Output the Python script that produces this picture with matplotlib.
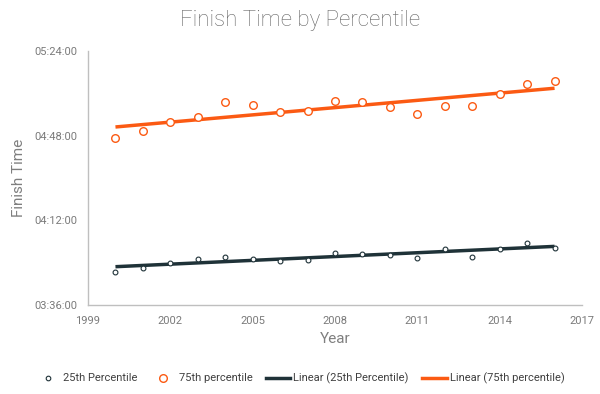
import numpy as np
import matplotlib
matplotlib.use("Agg")
import matplotlib.pyplot as plt
from matplotlib.ticker import FuncFormatter, MultipleLocator
from matplotlib.lines import Line2D

plt.rcParams['font.family'] = ['Roboto', 'DejaVu Sans']

years = [2000, 2001, 2002, 2003, 2004, 2005, 2006, 2007, 2008,
         2009, 2010, 2011, 2012, 2013, 2014, 2015, 2016]
# finish times in minutes
p25 = [230.2, 231.6, 234.0, 235.7, 236.5, 235.7, 234.7, 235.1, 238.2,
       237.8, 237.4, 236.1, 239.9, 236.5, 239.9, 242.5, 240.4]
p75 = [287.1, 290.1, 293.9, 295.8, 302.4, 301.2, 298.2, 298.6, 302.7,
       302.4, 300.3, 297.3, 300.7, 300.7, 305.8, 310.1, 311.4]
xticks = [1999, 2002, 2005, 2008, 2011, 2014, 2017]

dark = '#1f3238'
orange = '#fb5a13'
gray = '#7f7f7f'

fig = plt.figure(figsize=(6, 3.94), dpi=100)
ax = fig.add_axes([0.1467, 0.2259, 0.8233, 0.6447])

x = np.array(years, dtype=float)
c25 = np.polyfit(x, p25, 1)
c75 = np.polyfit(x, p75, 1)
xl = np.array([x.min(), x.max()])
ax.plot(xl, np.polyval(c25, xl), color=dark, lw=2.5, solid_capstyle='butt', zorder=2)
ax.plot(xl, np.polyval(c75, xl), color=orange, lw=2.5, solid_capstyle='butt', zorder=2)
ax.scatter(x, p25, s=12, facecolors='white', edgecolors=dark, linewidths=0.8, zorder=3)
ax.scatter(x, p75, s=30, facecolors='white', edgecolors=orange, linewidths=1.0, zorder=3)

ax.set_xlim(1999, 2017)
ax.set_ylim(216, 324)
ax.set_xticks(xticks)
ax.yaxis.set_major_locator(MultipleLocator(36))

def fmt(v, pos):
    m = int(round(v))
    return f"{m // 60:02d}:{m % 60:02d}:00"
ax.yaxis.set_major_formatter(FuncFormatter(fmt))
ax.xaxis.set_major_formatter(FuncFormatter(lambda v, p: f"{int(round(v))}"))

for s in ['top', 'right']:
    ax.spines[s].set_visible(False)
for s in ['left', 'bottom']:
    ax.spines[s].set_color('#bfbfbf')
    ax.spines[s].set_linewidth(1.0)
ax.tick_params(length=0, labelsize=8, labelcolor='#7a7a7a', pad=8)

ax.set_xlabel('Year', fontsize=11, color=gray, labelpad=4)
ax.set_ylabel('Finish Time', fontsize=11, color=gray, labelpad=6)
fig.suptitle('Finish Time by Percentile', fontsize=16, color='#666666', y=0.975, fontweight='light')

handles = [
    Line2D([], [], ls='none', marker='o', ms=3.3, mfc='white', mec=dark, mew=0.8),
    Line2D([], [], ls='none', marker='o', ms=5.5, mfc='white', mec=orange, mew=1.0),
    Line2D([], [], color=dark, lw=2.5),
    Line2D([], [], color=orange, lw=2.5),
]
labels = ['25th Percentile', '75th percentile', 'Linear (25th Percentile)', 'Linear (75th percentile)']
fig.legend(handles, labels, loc='center', bbox_to_anchor=(0.5, 0.04), ncol=4, frameon=False,
           fontsize=8, handlelength=2.2, handletextpad=0.3, columnspacing=1.2,
           labelcolor='#404040')

fig.savefig('out.png', dpi=100)
